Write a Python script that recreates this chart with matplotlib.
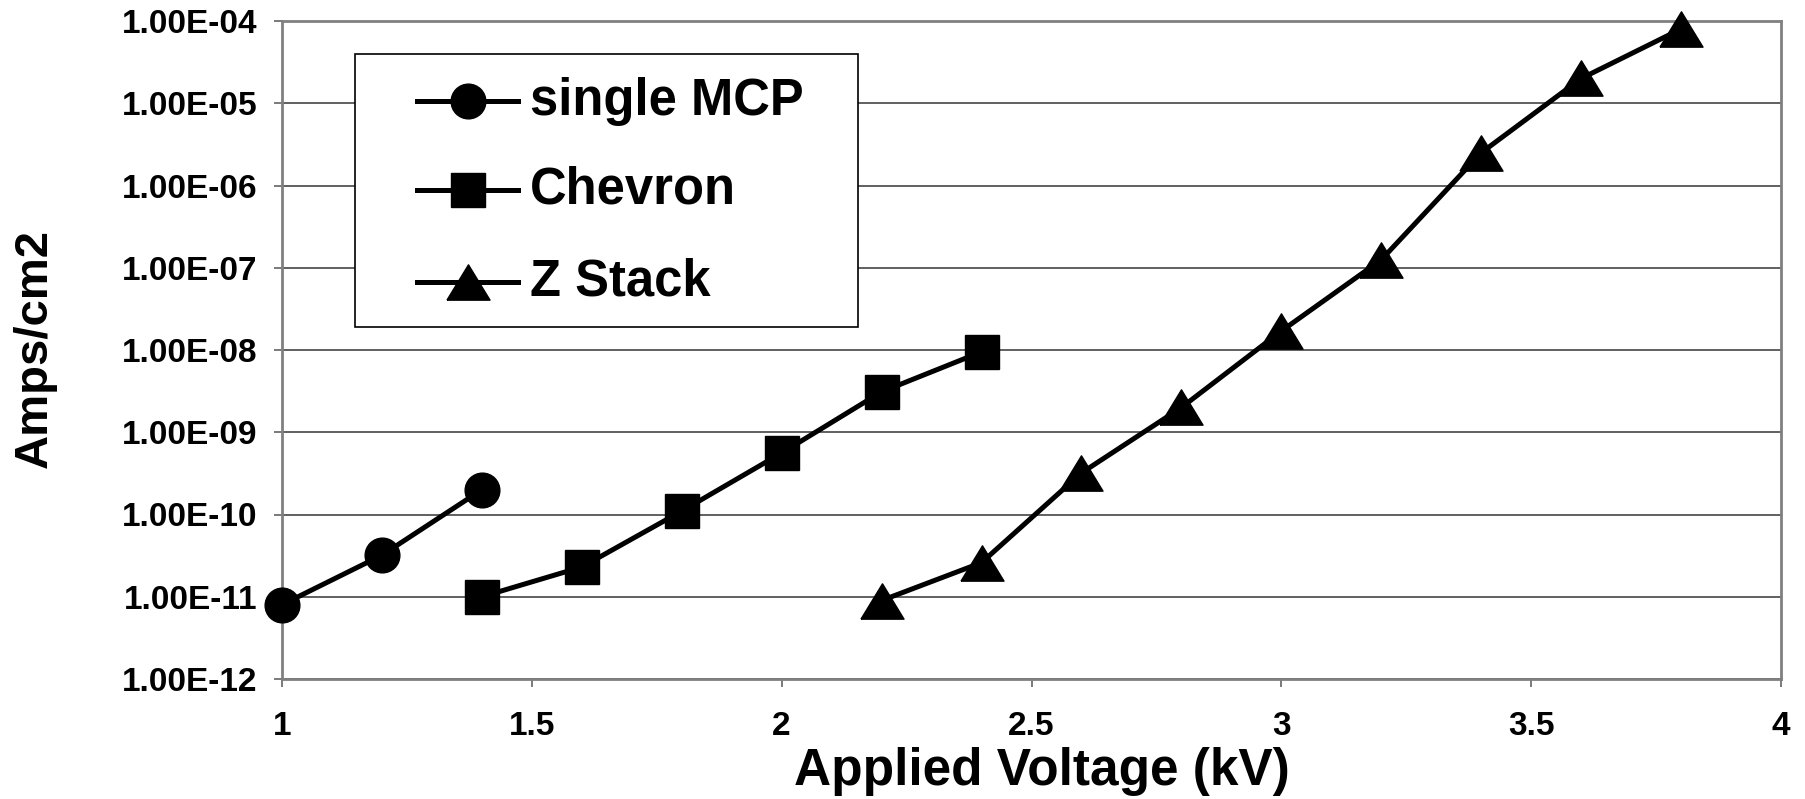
import matplotlib
matplotlib.use("Agg")
import matplotlib.pyplot as plt
from matplotlib.patches import Rectangle
from matplotlib.ticker import NullLocator
import numpy as np

# ---- data ----
single_x = [1.0, 1.2, 1.4]
single_y = [8.0e-12, 3.2e-11, 2.0e-10]

chevron_x = [1.4, 1.6, 1.8, 2.0, 2.2, 2.4]
chevron_y = [1.0e-11, 2.3e-11, 1.1e-10, 5.6e-10, 3.1e-9, 9.5e-9]

zstack_x = [2.2, 2.4, 2.6, 2.8, 3.0, 3.2, 3.4, 3.6, 3.8]
zstack_y = [9.0e-12, 2.6e-11, 3.2e-10, 2.0e-9, 1.7e-8, 1.25e-7, 2.5e-6, 2.0e-5, 8.0e-5]

series_names = ["single MCP", "Chevron", "Z Stack"]
x_ticks = [1, 1.5, 2, 2.5, 3, 3.5, 4]
x_tick_labels = ["1", "1.5", "2", "2.5", "3", "3.5", "4"]
y_ticks = [1e-12, 1e-11, 1e-10, 1e-9, 1e-8, 1e-7, 1e-6, 1e-5, 1e-4]
y_tick_labels = ["1.00E-12", "1.00E-11", "1.00E-10", "1.00E-09", "1.00E-08",
                 "1.00E-07", "1.00E-06", "1.00E-05", "1.00E-04"]

FONT = "Liberation Sans"
plt.rcParams["font.family"] = [FONT, "DejaVu Sans"]
plt.rcParams["font.weight"] = "bold"

tri = [(-1, -0.82), (1, -0.82), (0, 0.82), (-1, -0.82)]
styles = [
    dict(marker="o", markersize=25),
    dict(marker="s", markersize=24.5),
    dict(marker=tri, markersize=31),
]

fig = plt.figure(figsize=(18.05, 7.99), dpi=100)
ax = fig.add_axes([282 / 1805, 1 - 679 / 799, 1499 / 1805, 658 / 799])

data = [(single_x, single_y), (chevron_x, chevron_y), (zstack_x, zstack_y)]
for (xs, ys), st, name in zip(data, styles, series_names):
    ax.plot(xs, ys, color="black", lw=3.6, markerfacecolor="black",
            markeredgecolor="black", markeredgewidth=1, label=name,
            clip_on=False, zorder=3, **st)

ax.set_yscale("log")
ax.set_xlim(1, 4)
ax.set_ylim(1e-12, 1e-4)
ax.set_yticks(y_ticks)
ax.set_yticklabels(y_tick_labels)
ax.yaxis.set_minor_locator(NullLocator())
ax.set_xticks(x_ticks)
ax.set_xticklabels(x_tick_labels)

for t in ax.get_xticklabels() + ax.get_yticklabels():
    t.set_fontsize(24)
    t.set_fontweight("bold")

ax.tick_params(axis="both", direction="out", length=5.8, width=1.3,
               color="#707070")
ax.tick_params(axis="x", pad=17)
ax.tick_params(axis="y", pad=12)

ax.grid(True, axis="y", color="#606060", lw=1.4)
ax.set_axisbelow(True)
for s in ax.spines.values():
    s.set_color("#808080")
    s.set_linewidth(2.0)

ax.set_xlabel("Applied Voltage (kV)", fontsize=37, fontweight="bold")
ax.xaxis.set_label_coords(0.507, -0.141)
ax.xaxis.label.set_va("center")
ax.set_ylabel("Amps/cm2", fontsize=34, fontweight="bold")
ax.yaxis.set_label_coords(-0.165, 0.503)
ax.yaxis.label.set_va("center")

# ---- legend (manual box) ----
lx0, lx1, ly0, ly1 = 0.0487, 0.3843, 0.535, 0.9498
ax.add_patch(Rectangle((lx0, ly0), lx1 - lx0, ly1 - ly0, transform=ax.transAxes,
                       facecolor="white", edgecolor="black", lw=1.2, zorder=5))
rows = [0.8784, 0.7432, 0.6030]
hx0, hx1 = 0.0901, 0.1574
for yrow, st, name in zip(rows, styles, series_names):
    ax.plot([hx0, (hx0 + hx1) / 2, hx1], [yrow] * 3, transform=ax.transAxes,
            color="black", lw=3.6, markevery=[1], markerfacecolor="black",
            markeredgecolor="black", markeredgewidth=1, zorder=6,
            clip_on=False, **st)
    ax.text(0.1654, yrow, name, transform=ax.transAxes, fontsize=36.5,
            fontweight="bold", va="center", ha="left", zorder=7)

fig.savefig("out.png", dpi=100)
